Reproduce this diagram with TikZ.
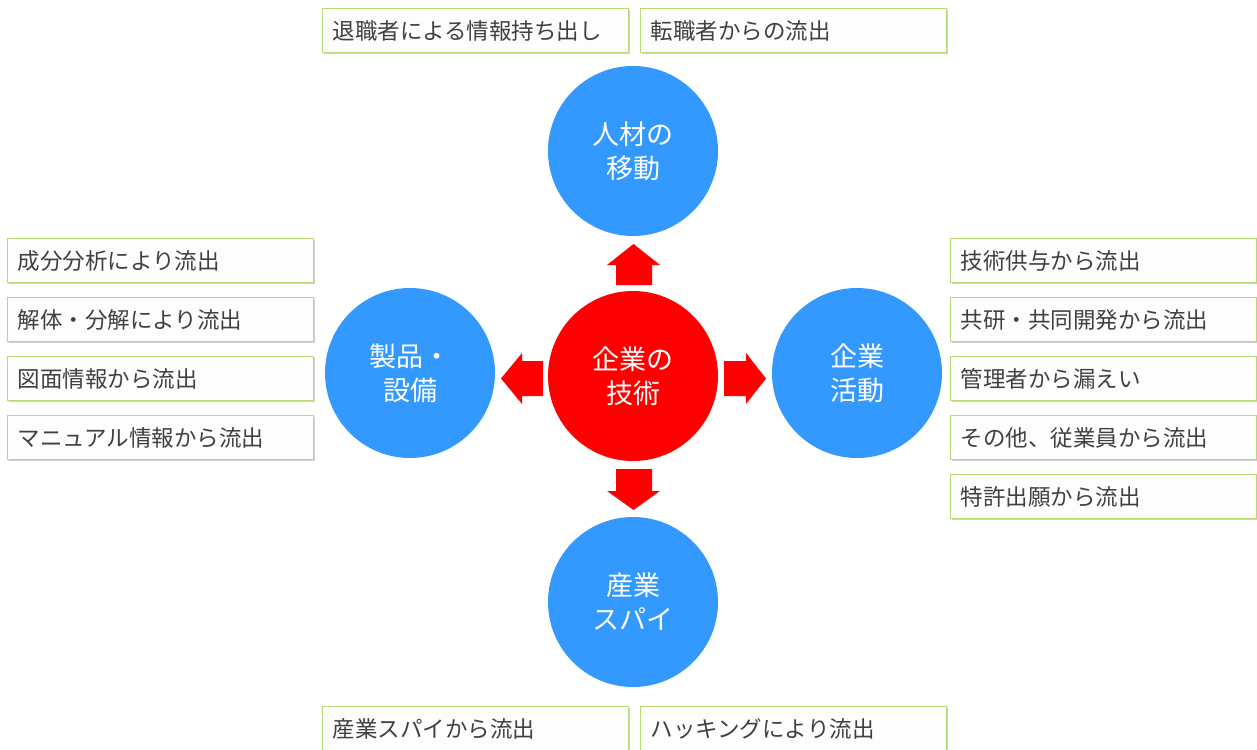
\documentclass[tikz,border=0pt]{standalone}
\usepackage{fontspec}
\newfontfamily\jp{Noto Sans CJK JP}
\usetikzlibrary{shadows}
\definecolor{circblue}{RGB}{51,153,255}
\definecolor{corered}{RGB}{255,0,0}
\definecolor{boxgreen}{RGB}{184,218,118}
\definecolor{boxfill}{RGB}{253,253,253}
\definecolor{textgray}{RGB}{64,64,64}
\tikzset{
  leakbox/.style={draw=boxgreen, fill=boxfill, line width=1.3pt, minimum height=44pt,
    text width=286pt, inner xsep=10pt, inner ysep=0pt, align=left, anchor=north west,
    text=textgray, font=\jp\fontsize{22.5}{26}\selectfont,
    drop shadow={shadow xshift=1.5pt, shadow yshift=-1.5pt, fill=black, opacity=0.18}},
  topic/.style={circle, fill=circblue, minimum size=170pt, inner sep=0pt, align=center,
    text=white, font=\jp\fontsize{27}{34}\selectfont},
  core/.style={topic, fill=corered},
  blockarrow/.style={fill=corered, draw=none}
}
\begin{document}
\begin{tikzpicture}[x=1pt, y=-1pt]
\useasboundingbox (0,0) rectangle (1257,749);
% circles
\node[core]  (core)  at (633,376) {企業の\\技術};
\node[topic] (jinzai) at (633,151) {人材の\\移動};
\node[topic] (seihin) at (410,373) {製品・\\設備};
\node[topic] (kigyo)  at (857,373) {企業\\活動};
\node[topic] (spy)    at (633,602) {産業\\スパイ};
% block arrows
\fill[blockarrow] (616,285) -- (616,265) -- (607,265) -- (633.5,244) -- (660,265) -- (652,265) -- (652,285) -- cycle;
\fill[blockarrow] (616,469) -- (652,469) -- (652,491) -- (660,491) -- (633.5,510) -- (607,491) -- (616,491) -- cycle;
\fill[blockarrow] (543,361) -- (522,361) -- (522,353) -- (501,378.5) -- (522,404) -- (522,396) -- (543,396) -- cycle;
\fill[blockarrow] (724,361) -- (746,361) -- (746,353) -- (766,378.5) -- (746,404) -- (746,396) -- (724,396) -- cycle;
% top boxes
\node[leakbox] (t1) at (322,8) {退職者による情報持ち出し};
\node[leakbox] (t2) at (640,8) {転職者からの流出};
% left boxes
\node[leakbox] (l1) at (7,238) {成分分析により流出};
\node[leakbox] (l2) at (7,297) {解体・分解により流出};
\node[leakbox] (l3) at (7,356) {図面情報から流出};
\node[leakbox] (l4) at (7,415) {マニュアル情報から流出};
% right boxes
\node[leakbox] (r1) at (950,238) {技術供与から流出};
\node[leakbox] (r2) at (950,297) {共研・共同開発から流出};
\node[leakbox] (r3) at (950,356) {管理者から漏えい};
\node[leakbox] (r4) at (950,415) {その他、従業員から流出};
\node[leakbox] (r5) at (950,474) {特許出願から流出};
% bottom boxes
\node[leakbox] (b1) at (322,706) {産業スパイから流出};
\node[leakbox] (b2) at (640,706) {ハッキングにより流出};
\end{tikzpicture}
\end{document}
